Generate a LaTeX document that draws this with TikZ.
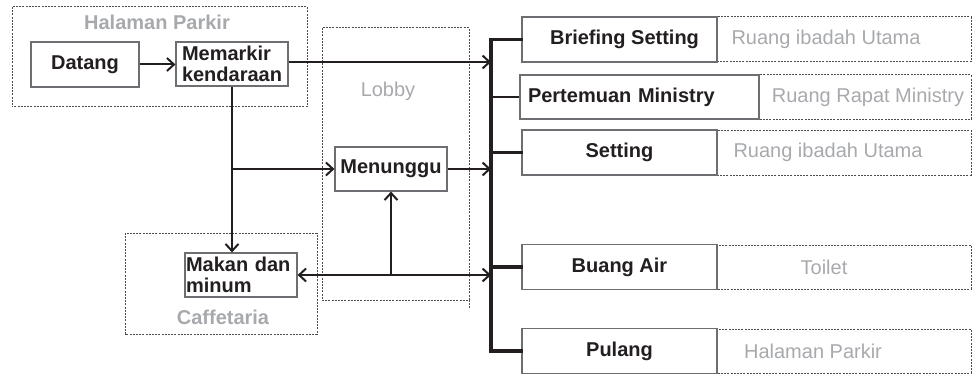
\documentclass[tikz,border=0pt]{standalone}
\usepackage{fontspec}
\setmainfont{Liberation Sans}
\usetikzlibrary{arrows.meta}
\definecolor{ink}{HTML}{231F20}
\definecolor{boxline}{HTML}{6D6E71}
\definecolor{place}{HTML}{A7A9AC}
\definecolor{zoneline}{HTML}{4D4D4F}

\begin{document}
\begin{tikzpicture}[x=0.5pt,y=-0.5pt,
  txt/.style={font=\fontsize{10}{10.5}\selectfont},
  stepbox/.style={draw=boxline,line width=0.6pt,fill=white,
    font=\fontsize{10}{10.5}\selectfont\bfseries,text=ink,
    inner sep=0.5pt,minimum height=22pt},
  wide/.style={stepbox,minimum width=97.5pt,minimum height=22.5pt},
  zone/.style={draw=zoneline,line width=0.5pt,dash pattern=on 1pt off 0.6pt},
  zonetitle/.style={font=\fontsize{10}{10.5}\selectfont\bfseries,text=place},
  roomtext/.style={font=\fontsize{10}{10.5}\selectfont,text=place},
  flow/.style={draw=ink,line width=1pt},
  arr/.style={flow,-{Straight Barb[length=3.5pt,width=6.5pt]}},
  arrboth/.style={flow,{Straight Barb[length=3.5pt,width=6.5pt]}-{Straight Barb[length=3.5pt,width=6.5pt]}},
  bus/.style={draw=ink,line width=1.8pt,line join=miter,line cap=rect}]

\useasboundingbox (0,0) rectangle (973,374);

% zones
\draw[zone] (12,7) rectangle (307,107);
\node[zonetitle] (tparkir) at (157,22) {Halaman Parkir};
\draw[zone] (322,28) rectangle (469,300);
\draw[zone] (469,300) -- (469,309);
\node[roomtext] (tlobby) at (388,91) {Lobby};
\draw[zone] (125,233) rectangle (317,334);
\node[zonetitle] (tcafe) at (223,317) {Caffetaria};

% room strips on the right
\draw[zone] (717,17) rectangle (971,62);
\draw[zone] (759,75) rectangle (971,119);
\draw[zone] (717,130) rectangle (971,175);
\draw[zone] (717,245) rectangle (971,289);
\draw[zone] (717,329) rectangle (971,373);
\node[roomtext] (r1) at (826,39.5) {Ruang ibadah Utama};
\node[roomtext] (r2) at (868,97) {Ruang Rapat Ministry};
\node[roomtext] (r3) at (828,152.5) {Ruang ibadah Utama};
\node[roomtext] (r4) at (824,267) {Toilet};
\node[roomtext] (r5) at (813,351) {Halaman Parkir};

% activity boxes
\node[stepbox,minimum width=54pt,minimum height=22.5pt] (datang) at (85,64.5) {Datang};
\node[stepbox,text width=50pt,inner xsep=3pt,align=left] (parkir) at (232,64) {Memarkir\\kendaraan};
\node[stepbox,minimum width=56pt] (tunggu) at (391,169) {Menunggu};
\node[stepbox,text width=55pt,inner xsep=0.5pt,align=left] (makan) at (241,275) {\mbox{Makan dan}\\minum};

\node[wide] (brief) at (619.5,39.5) {\hspace*{5pt}Briefing Setting};
\node[stepbox,text width=111.5pt,inner xsep=4pt,align=left] (temu) at (639.5,97) {Pertemuan Ministry};
\node[wide] (setting) at (619.5,152.5) {Setting};
\node[wide] (buang) at (619.5,267) {Buang Air};
\node[wide] (pulang) at (619.5,351) {Pulang};

% distribution bar
\coordinate (bt) at (491,39.5);
\coordinate (bb) at (491,351);
\draw[bus] (brief.west) -- (bt) -- (bb) -- (pulang.west);
\draw[bus] (bt |- setting.west) -- (setting.west);
\draw[bus] (bt |- buang.west) -- (buang.west);
\draw[flow] (bt |- temu.west) -- (temu.west);

% flows
\draw[arr] (datang.east) -- (datang.east -| parkir.west);
\draw[arr] ([yshift=1pt]parkir.east) -- ([yshift=1pt]parkir.east -| bt);
\draw[arr] (parkir.south) -- (parkir.south |- makan.north);
\draw[arr] (parkir.south |- tunggu.west) -- (tunggu.west);
\draw[arr] (tunggu.east) -- (tunggu.east -| bt);
\draw[arrboth] (makan.east) -- (makan.east -| bt);
\coordinate (j) at (391,275);
\draw[arr] (j) -- (tunggu.south);

\end{tikzpicture}
\end{document}
